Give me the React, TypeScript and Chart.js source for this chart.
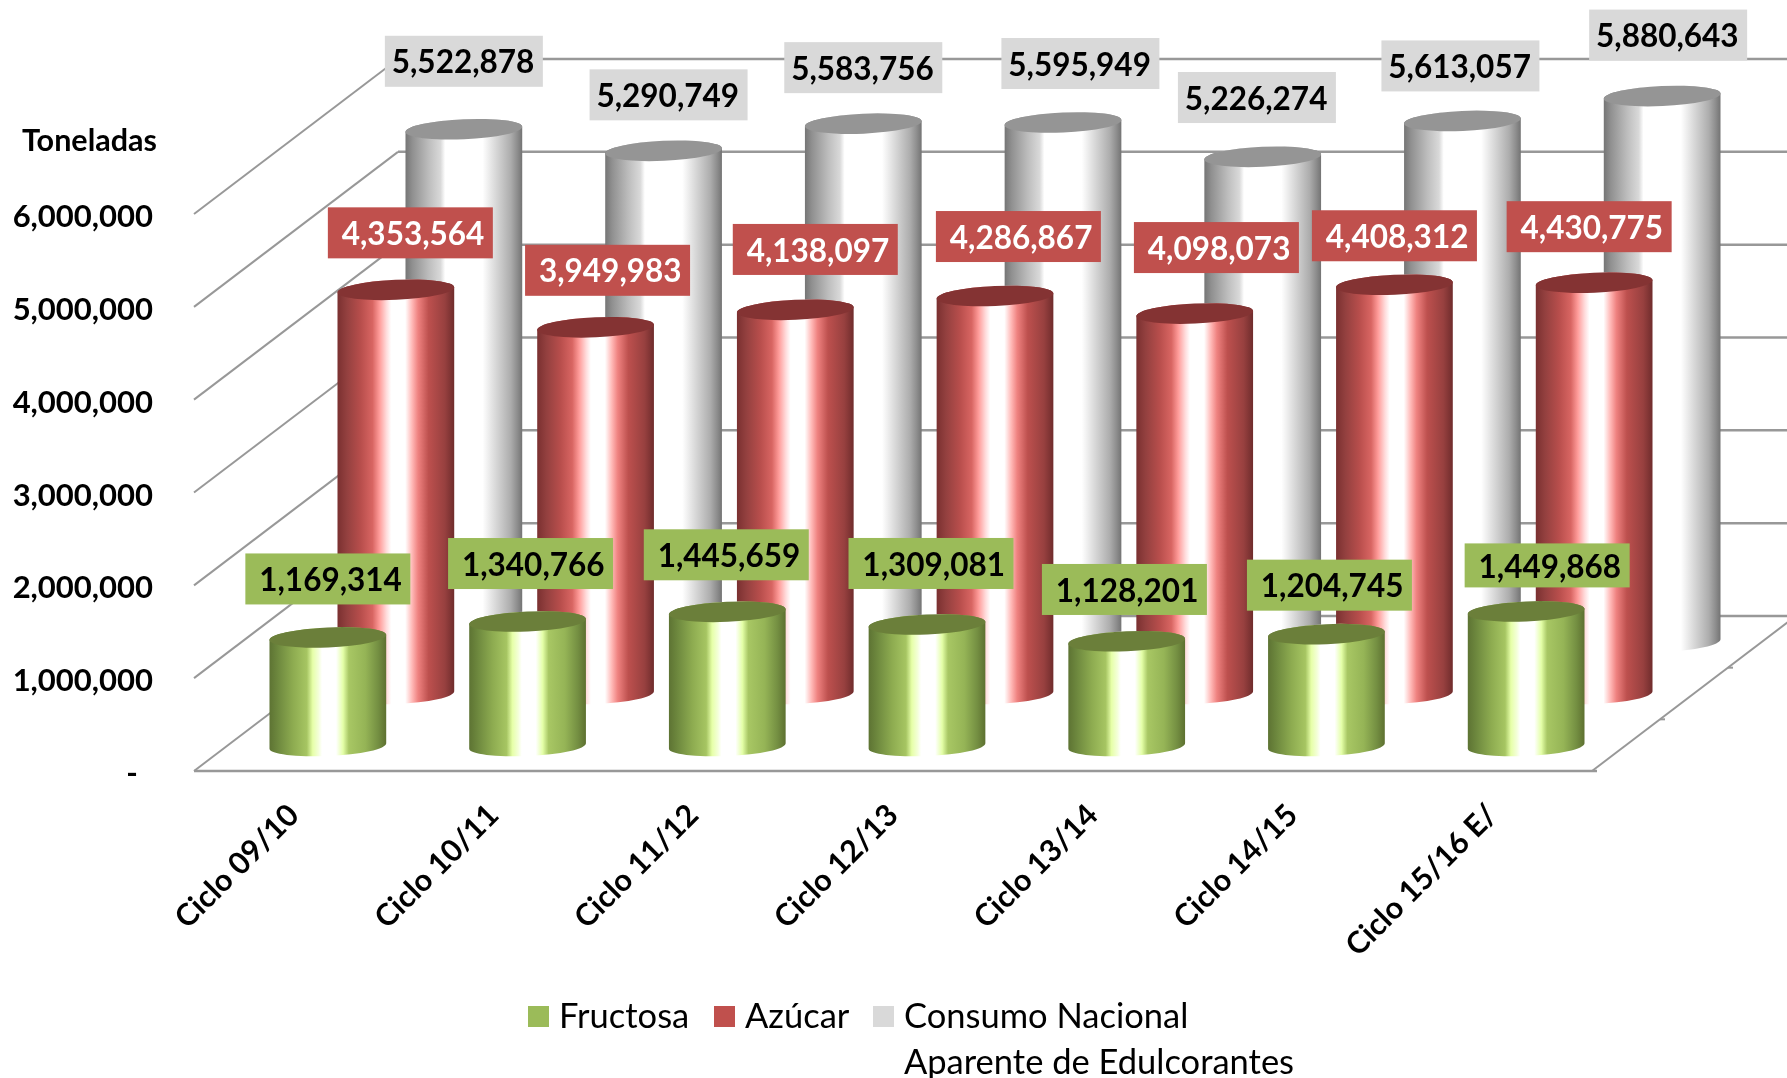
import React, { useEffect, useRef } from "react";
import { Chart, registerables } from "chart.js";

Chart.register(...registerables);

const categories = ["Ciclo 09/10", "Ciclo 10/11", "Ciclo 11/12", "Ciclo 12/13", "Ciclo 13/14", "Ciclo 14/15", "Ciclo 15/16 E/"];
const fructosa = [1169314, 1340766, 1445659, 1309081, 1128201, 1204745, 1449868];
const azucar = [4353564, 3949983, 4138097, 4286867, 4098073, 4408312, 4430775];
const consumo = [5522878, 5290749, 5583756, 5595949, 5226274, 5613057, 5880643];

// Manual data-label nudges [dx, dy, boxHeight?] relative to each cylinder's top centre.
const fructosaNudge = [[0, -57.5], [3, -57], [-1, -56], [4, -60], [-2.3, -50.8], [3, -48], [21, -45, 44]];
const azucarNudge = [[14.5, -56], [12, -56], [20, -59.4], [23.4, -58.5], [21.7, -65], [0, -48], [-5, -55]];
const consumoNudge = [[0, -67], [5, -55], [0, -55], [17.4, -58], [-5.8, -58.3], [-2, -54], [6, -60]];

const FONT = "Lato";
const DEPTH_X = 68;
const DEPTH_Y = 52;
const GRID = "#989898";

const looks = [
  {
    box: "#9bbb59", boxW: 165, text: "#000000", cap: "#6b7f3a",
    stops: [[0, "#5d7333"], [0.08, "#6f8a3f"], [0.2, "#8dab50"], [0.32, "#a6c562"], [0.37, "#e6ffa8"], [0.42, "#f4ffd8"], [0.45, "#ffffff"], [0.57, "#ffffff"], [0.63, "#e4ffa8"], [0.68, "#a8c764"], [0.82, "#95b456"], [0.93, "#748f42"], [1, "#5d7030"]],
  },
  {
    box: "#c0504d", boxW: 165, text: "#ffffff", cap: "#843333",
    stops: [[0, "#7a3030"], [0.08, "#93403f"], [0.2, "#b84e4c"], [0.3, "#d86562"], [0.36, "#ff9c9a"], [0.42, "#ffdcdc"], [0.46, "#ffffff"], [0.58, "#ffffff"], [0.64, "#ffb8b6"], [0.69, "#ef8280"], [0.78, "#bd504e"], [0.92, "#97403f"], [1, "#6f2c2c"]],
  },
  {
    box: "#d9d9d9", boxW: 158, text: "#000000", cap: "#959595",
    stops: [[0, "#757575"], [0.06, "#909090"], [0.2, "#bdbdbd"], [0.3, "#d9d9d9"], [0.34, "#ffffff"], [0.66, "#ffffff"], [0.77, "#d9d9d9"], [0.9, "#adadad"], [0.96, "#8c8c8c"], [1, "#737373"]],
  },
];
const nudges = [fructosaNudge, azucarNudge, consumoNudge];

const shift = (i: number) => ({ x: DEPTH_X / 2 + DEPTH_X * i, y: -(DEPTH_Y / 2 + DEPTH_Y * i) });

const wallPlugin = {
  id: "wall",
  beforeDatasetsDraw(chart: any) {
    const { ctx, chartArea: a, scales } = chart;
    const dx = DEPTH_X * 3;
    const dy = DEPTH_Y * 3 - 1;
    ctx.save();
    ctx.strokeStyle = GRID;
    ctx.lineCap = "butt";
    scales.y.ticks.forEach((t: any) => {
      const y = scales.y.getPixelForValue(t.value);
      ctx.lineWidth = 2;
      ctx.beginPath();
      ctx.moveTo(a.left, y);
      ctx.lineTo(a.left + dx, y - dy);
      ctx.stroke();
      ctx.lineWidth = 2.5;
      ctx.beginPath();
      ctx.moveTo(a.left + dx, y - dy);
      ctx.lineTo(a.right + dx, y - dy);
      ctx.stroke();
    });
    // floor front and right edges
    ctx.lineWidth = 2.5;
    ctx.beginPath();
    ctx.moveTo(a.left, a.bottom);
    ctx.lineTo(a.right + 5, a.bottom);
    ctx.stroke();
    ctx.lineWidth = 2;
    ctx.beginPath();
    ctx.moveTo(a.right, a.bottom);
    ctx.lineTo(a.right + dx, a.bottom - dy);
    ctx.stroke();
    [1 / 3, 2 / 3].forEach((f) => {
      ctx.beginPath();
      ctx.moveTo(a.right + dx * f, a.bottom - dy * f);
      ctx.lineTo(a.right + dx * f + 5, a.bottom - dy * f);
      ctx.stroke();
    });
    ctx.restore();
  },
};

const cylinderPlugin = {
  id: "cylinder",
  beforeDatasetDraw(chart: any, args: any) {
    const { ctx } = chart;
    const look = looks[args.index];
    const off = shift(args.index);
    const rot = -0.045;
    const ry = 10;
    args.meta.data.forEach((bar: any) => {
      const cx = bar.x + off.x;
      const top = bar.y + off.y + 1;
      const base = bar.base + off.y + 1;
      const rx = bar.width / 2;
      const g = ctx.createLinearGradient(cx - rx, 0, cx + rx, 0);
      look.stops.forEach((s: any) => g.addColorStop(s[0], s[1]));
      ctx.save();
      ctx.fillStyle = g;
      ctx.beginPath();
      ctx.ellipse(cx, base, rx, ry, rot, Math.PI, 0, true);
      ctx.ellipse(cx, top, rx, ry, rot, 0, Math.PI, true);
      ctx.closePath();
      ctx.fill();
      ctx.fillStyle = look.cap;
      ctx.beginPath();
      ctx.ellipse(cx, top, rx, ry, rot, 0, Math.PI * 2);
      ctx.fill();
      ctx.restore();
    });
    return false;
  },
};

const labelPlugin = {
  id: "boxLabels",
  afterDatasetsDraw(chart: any) {
    const { ctx } = chart;
    ctx.save();
    ctx.font = `bold 31.5px ${FONT}`;
    ctx.textBaseline = "middle";
    ctx.textAlign = "right";
    [2, 1, 0].forEach((i) => {
      const look = looks[i];
      const off = shift(i);
      const meta = chart.getDatasetMeta(i);
      meta.data.forEach((bar: any, k: number) => {
        const n = nudges[i][k];
        const cx = bar.x + off.x + n[0];
        const cy = bar.y + off.y + n[1];
        const h = n[2] || 51;
        const w = look.boxW;
        ctx.fillStyle = look.box;
        ctx.fillRect(cx - w / 2, cy - h / 2, w, h);
        ctx.fillStyle = look.text;
        ctx.fillText(chart.data.datasets[i].data[k].toLocaleString("en-US"), cx + w / 2 - 8.5, cy + 2);
      });
    });
    ctx.restore();
  },
};

const textPlugin = {
  id: "legendText",
  afterDraw(chart: any) {
    const { ctx } = chart;
    ctx.save();
    ctx.textBaseline = "middle";
    ctx.textAlign = "left";
    ctx.fillStyle = "#000000";
    ctx.font = `bold 30.5px ${FONT}`;
    ctx.fillText("Toneladas", 22, 141);
    ctx.font = `34.5px ${FONT}`;
    const squareX = [528, 714, 873];
    const textX = [559, 745, 904];
    chart.data.datasets.forEach((d: any, i: number) => {
      ctx.fillStyle = looks[i].box;
      ctx.fillRect(squareX[i], 1006, 21, 21);
      ctx.fillStyle = "#000000";
      const lines = Array.isArray(d.legendLines) ? d.legendLines : [d.label];
      lines.forEach((line: string, j: number) => ctx.fillText(line, textX[i], 1017 + j * 46));
    });
    ctx.restore();
  },
};

export default function App() {
  const ref = useRef<HTMLCanvasElement>(null);
  useEffect(() => {
    const common = { grouped: false, categoryPercentage: 1, barPercentage: 0.585, clip: false };
    const chart = new Chart(ref.current as any, {
      type: "bar",
      data: {
        labels: categories,
        datasets: [
          { label: "Fructosa", data: fructosa, backgroundColor: looks[0].box, ...common },
          { label: "Azúcar", data: azucar, backgroundColor: looks[1].box, ...common },
          { label: "Consumo Nacional Aparente de Edulcorantes", legendLines: ["Consumo Nacional", "Aparente de Edulcorantes"], data: consumo, backgroundColor: looks[2].box, ...common } as any,
        ],
      },
      options: {
        responsive: false,
        animation: false,
        layout: { padding: { top: 214, right: 195, left: 0, bottom: 0 } },
        plugins: { legend: { display: false }, tooltip: { enabled: false } },
        scales: {
          x: {
            grid: { display: false },
            border: { display: false },
            afterFit(s: any) { s.height = 307; },
            ticks: {
              autoSkip: false, minRotation: 45, maxRotation: 45, padding: 18,
              color: "#000000", font: { family: FONT, size: 30.5, weight: "bold" },
            },
          },
          y: {
            min: 0, max: 6000000,
            grid: { display: false },
            border: { display: false },
            afterFit(s: any) { s.width = 194; },
            ticks: {
              stepSize: 1000000, padding: 33, labelOffset: 3,
              color: "#000000", font: { family: FONT, size: 31, weight: "bold" },
              callback: (v: any) => (v === 0 ? "-\u00a0\u00a0" : Number(v).toLocaleString("en-US")),
            },
          },
        },
      } as any,
      plugins: [wallPlugin, cylinderPlugin, labelPlugin, textPlugin],
    });
    return () => chart.destroy();
  }, []);
  return (
    <div style={{ position: "absolute", left: 0, top: 0, width: 1787, height: 1078, background: "#ffffff", overflow: "hidden" }}>
      <canvas ref={ref} width={1787} height={1078} style={{ display: "block" }} />
    </div>
  );
}
